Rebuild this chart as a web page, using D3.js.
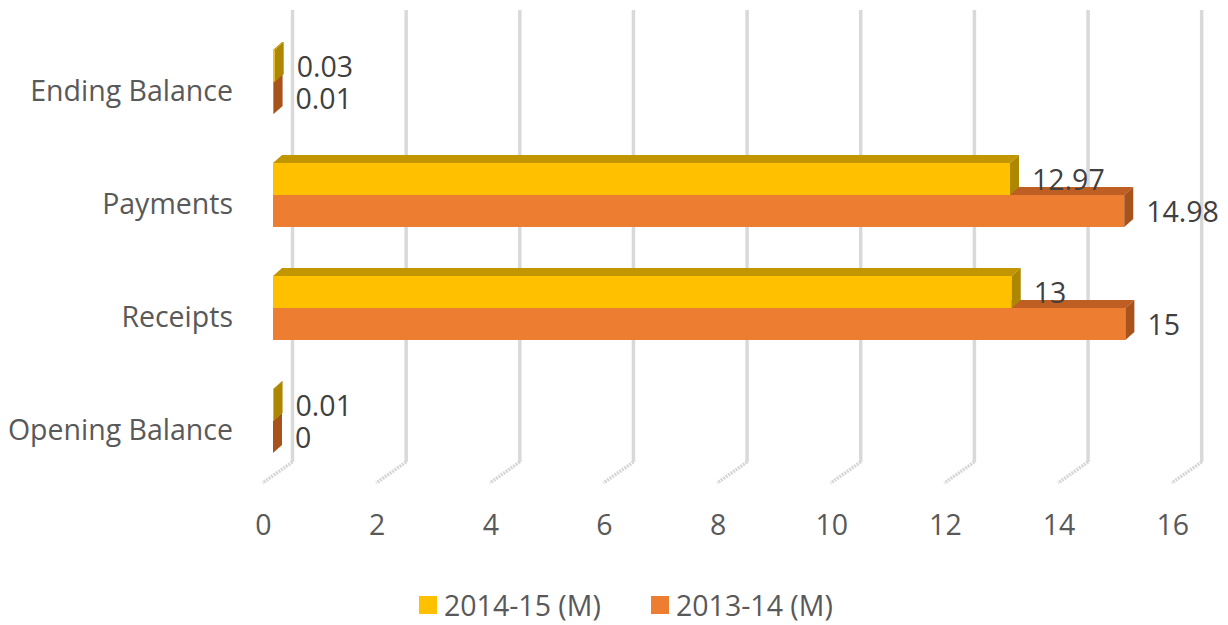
<!DOCTYPE html>
<html>
<head>
<meta charset="utf-8">
<script src="https://cdn.jsdelivr.net/npm/d3@7"></script>
<style>
  html, body { margin: 0; padding: 0; background: #fff; }
  svg { display: block; }
</style>
</head>
<body>
<svg></svg>
<script>
// data
const categories = ["Opening Balance", "Receipts", "Payments", "Ending Balance"];
const seriesNames = ["2014-15 (M)", "2013-14 (M)"];
const values2014 = [0.01, 13, 12.97, 0.03];
const values2013 = [0, 15, 14.98, 0.01];
const ticks = [0, 2, 4, 6, 8, 10, 12, 14, 16];

// layout
const WIDTH = 1228, HEIGHT = 625;
const WALL_TOP = 10, WALL_BOTTOM = 462;
const FLOOR_DX = -30, FLOOR_DY = 21;
const FRONT_DX = -19.5, FRONT_DY = 15.5;   // bar front face relative to back wall
const DEPTH_DX = 9, DEPTH_DY = -8;         // bar depth
const FONT = '"Open Sans", "Liberation Sans", sans-serif';
const FONT_SIZE = '28.5px';

const colors = {
    "2014-15 (M)": { front: "#FFC000", top: "#C29600", side: "#AE8700" },
    "2013-14 (M)": { front: "#ED7D31", top: "#BE5E22", side: "#A8521C" }
};

const svg = d3.select('svg')
    .attr('width', WIDTH)
    .attr('height', HEIGHT);

const x = d3.scaleLinear().domain([0, 16]).range([292.5, 1201.7]);

const y = d3.scaleBand()
    .domain(categories.slice().reverse())
    .range([WALL_TOP, WALL_BOTTOM])
    .paddingInner(0.434)
    .paddingOuter(0.217);

const ySub = d3.scaleBand()
    .domain(seriesNames)
    .range([0, y.bandwidth()]);

// gridlines on the back wall + floor
const grid = svg.append('g');
grid.selectAll('.grid-line')
    .data(ticks)
    .enter()
    .append('line')
    .attr('x1', d => x(d))
    .attr('x2', d => x(d))
    .attr('y1', WALL_TOP)
    .attr('y2', WALL_BOTTOM)
    .style('stroke', '#d9d9d9')
    .style('stroke-width', 3.5);

grid.selectAll('.floor-line')
    .data(ticks)
    .enter()
    .append('line')
    .attr('x1', d => x(d))
    .attr('x2', d => x(d) + FLOOR_DX)
    .attr('y1', WALL_BOTTOM)
    .attr('y2', WALL_BOTTOM + FLOOR_DY)
    .style('stroke', '#d6d6d6')
    .style('stroke-width', 3.5)
    .style('stroke-dasharray', '2,1');

// bars: draw the lower (2013-14) series first so the upper one covers its top face
const barData = [];
categories.forEach((cat, i) => {
    barData.push({ cat, series: "2013-14 (M)", value: values2013[i] });
});
categories.forEach((cat, i) => {
    barData.push({ cat, series: "2014-15 (M)", value: values2014[i] });
});

function geom(d) {
    const fx = x(0) + FRONT_DX;
    const fy = y(d.cat) + ySub(d.series) + FRONT_DY;
    const w = x(d.value) - x(0);
    const h = ySub.bandwidth();
    return { fx, fy, w, h };
}

const bars = svg.append('g')
    .selectAll('.bar')
    .data(barData)
    .enter()
    .append('g')
    .classed('bar', true);

bars.append('rect')
    .attr('x', d => geom(d).fx)
    .attr('y', d => geom(d).fy)
    .attr('width', d => geom(d).w)
    .attr('height', d => geom(d).h)
    .style('fill', d => colors[d.series].front);

bars.append('polygon')
    .attr('points', d => {
        const g = geom(d);
        return [
            [g.fx, g.fy], [g.fx + g.w, g.fy],
            [g.fx + g.w + DEPTH_DX, g.fy + DEPTH_DY], [g.fx + DEPTH_DX, g.fy + DEPTH_DY]
        ].join(' ');
    })
    .style('fill', d => colors[d.series].top);

bars.append('polygon')
    .attr('points', d => {
        const g = geom(d);
        return [
            [g.fx + g.w, g.fy], [g.fx + g.w + DEPTH_DX, g.fy + DEPTH_DY],
            [g.fx + g.w + DEPTH_DX, g.fy + g.h + DEPTH_DY], [g.fx + g.w, g.fy + g.h]
        ].join(' ');
    })
    .style('fill', d => colors[d.series].side);

// data labels
svg.append('g')
    .selectAll('.data-label')
    .data(barData)
    .enter()
    .append('text')
    .text(d => d.value)
    .attr('x', d => geom(d).fx + geom(d).w + DEPTH_DX + 13)
    .attr('y', d => geom(d).fy + geom(d).h / 2)
    .attr('dominant-baseline', 'central')
    .style('font-family', FONT)
    .style('font-size', FONT_SIZE)
    .style('fill', '#404040');

// category labels
svg.append('g')
    .selectAll('.cat-label')
    .data(categories)
    .enter()
    .append('text')
    .text(d => d)
    .attr('x', 233)
    .attr('y', d => y(d) + y.bandwidth() / 2 + 23.5)
    .attr('text-anchor', 'end')
    .attr('dominant-baseline', 'central')
    .style('font-family', FONT)
    .style('font-size', FONT_SIZE)
    .style('fill', '#595959');

// value axis labels (front edge of the floor)
svg.append('g')
    .selectAll('.tick-label')
    .data(ticks)
    .enter()
    .append('text')
    .text(d => d)
    .attr('x', d => x(d) + FLOOR_DX + 1)
    .attr('y', 524)
    .attr('text-anchor', 'middle')
    .attr('dominant-baseline', 'central')
    .style('font-family', FONT)
    .style('font-size', FONT_SIZE)
    .style('fill', '#595959');

// legend
const legendPos = [419, 651];
const legend = svg.append('g')
    .selectAll('.legend-item')
    .data(seriesNames)
    .enter()
    .append('g')
    .attr('transform', (d, i) => `translate(${legendPos[i]},605)`);

legend.append('rect')
    .attr('x', 0)
    .attr('y', -9)
    .attr('width', 18)
    .attr('height', 18)
    .style('fill', d => colors[d].front);

legend.append('text')
    .text(d => d)
    .attr('x', 25)
    .attr('y', 0)
    .attr('dominant-baseline', 'central')
    .style('font-family', FONT)
    .style('font-size', FONT_SIZE)
    .style('fill', '#595959');
</script>
</body>
</html>
